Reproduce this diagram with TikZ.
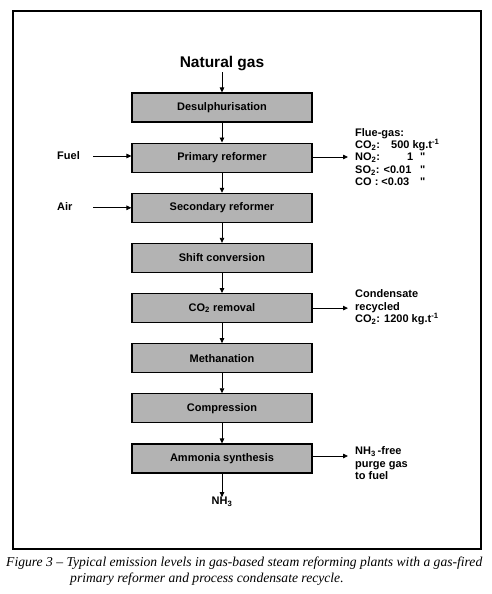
\documentclass[tikz,border=0pt]{standalone}
\usepackage{fontspec}
\setmainfont{Liberation Sans}[Ligatures=TeXOff]
\newfontfamily\capfont{Liberation Serif}
\usetikzlibrary{arrows.meta}
\definecolor{boxgray}{HTML}{B3B3B3}
\tikzset{
  x=1pt, y=-1pt,
  procbox/.style={draw=black, line width=1.1pt, fill=boxgray, minimum width=180pt, minimum height=29pt, inner sep=0pt, font=\fontsize{11}{12}\bfseries\selectfont},
  flow/.style={line width=0.8pt, -{Triangle[length=5pt,width=4.5pt]}},
  sidelbl/.style={font=\fontsize{11}{12.4}\bfseries\selectfont, inner sep=0pt, align=left},
  captxt/.style={font=\fontsize{13.6}{15}\capfont\itshape, inner sep=0pt, anchor=base west}
}
\begin{document}
\begin{tikzpicture}
\useasboundingbox (0,0) rectangle (492,594);
\draw[line width=1.2pt] (13,11) rectangle (481,549);
\node[font=\fontsize{15.5}{18}\bfseries\selectfont, inner sep=0pt, anchor=base] (ng) at (222,67) {Natural gas};
\node[procbox] (b1) at (222,107.5) {Desulphurisation};
\node[procbox] (b2) at (222,157.6) {Primary reformer};
\node[procbox] (b3) at (222,207.8) {Secondary reformer};
\node[procbox] (b4) at (222,257.9) {Shift conversion};
\node[procbox] (b5) at (222,308.1) {CO\textsubscript{2} removal};
\node[procbox] (b6) at (222,358.2) {Methanation};
\node[procbox] (b7) at (222,408.3) {Compression};
\node[procbox] (b8) at (222,458.5) {Ammonia synthesis};
\coordinate (ngend) at (222,72);
\draw[flow] (ngend) -- (b1.north);
\draw[flow] (b1) -- (b2);
\draw[flow] (b2) -- (b3);
\draw[flow] (b3) -- (b4);
\draw[flow] (b4) -- (b5);
\draw[flow] (b5) -- (b6);
\draw[flow] (b6) -- (b7);
\draw[flow] (b7) -- (b8);
% left inputs
\node[sidelbl, anchor=west] (fuel) at (57,156) {Fuel};
\node[sidelbl, anchor=west] (air) at (57,207) {Air};
\coordinate (fuelst) at (93,156);
\coordinate (airst) at (93,207.8);
\draw[flow] (fuelst) -- (fuelst -| b2.west);
\draw[flow] (airst) -- (airst -| b3.west);
% right outputs
\coordinate (flueend) at (348,157);
\draw[flow] (flueend -| b2.east) -- (flueend);
\node[sidelbl, anchor=north west] (flue) at (355,128) {Flue-gas:\\
CO\textsubscript{2}:\hspace{1em}500 kg.t\textsuperscript{-1}\\
\makebox[65pt][l]{\makebox[52pt][l]{NO\textsubscript{2}:}1}"\\
\makebox[65pt][l]{SO\textsubscript{2}: <0.01}"\\
\makebox[65pt][l]{CO : <0.03}"};
\coordinate (condend) at (348,308.1);
\draw[flow] (b5.east) -- (condend);
\node[sidelbl, anchor=north west] (cond) at (355,289.5) {Condensate\\recycled\\CO\textsubscript{2}: 1200 kg.t\textsuperscript{-1}};
\coordinate (purgeend) at (348,456);
\draw[flow] (purgeend -| b8.east) -- (purgeend);
\node[sidelbl, anchor=north west] (purge) at (355,446.5) {NH\textsubscript{3}\,-free\\purge gas\\to fuel};
% product
\node[sidelbl] (nh3) at (222,502) {NH\textsubscript{3}};
\draw[flow] (b8.south) -- (nh3.north);
% caption
\node[captxt] (cap1) at (6,566) {Figure 3 – Typical emission levels in gas-based steam reforming plants with a gas-fired};
\node[captxt] (cap2) at (70,582) {primary reformer and process condensate recycle.};
\end{tikzpicture}
\end{document}
